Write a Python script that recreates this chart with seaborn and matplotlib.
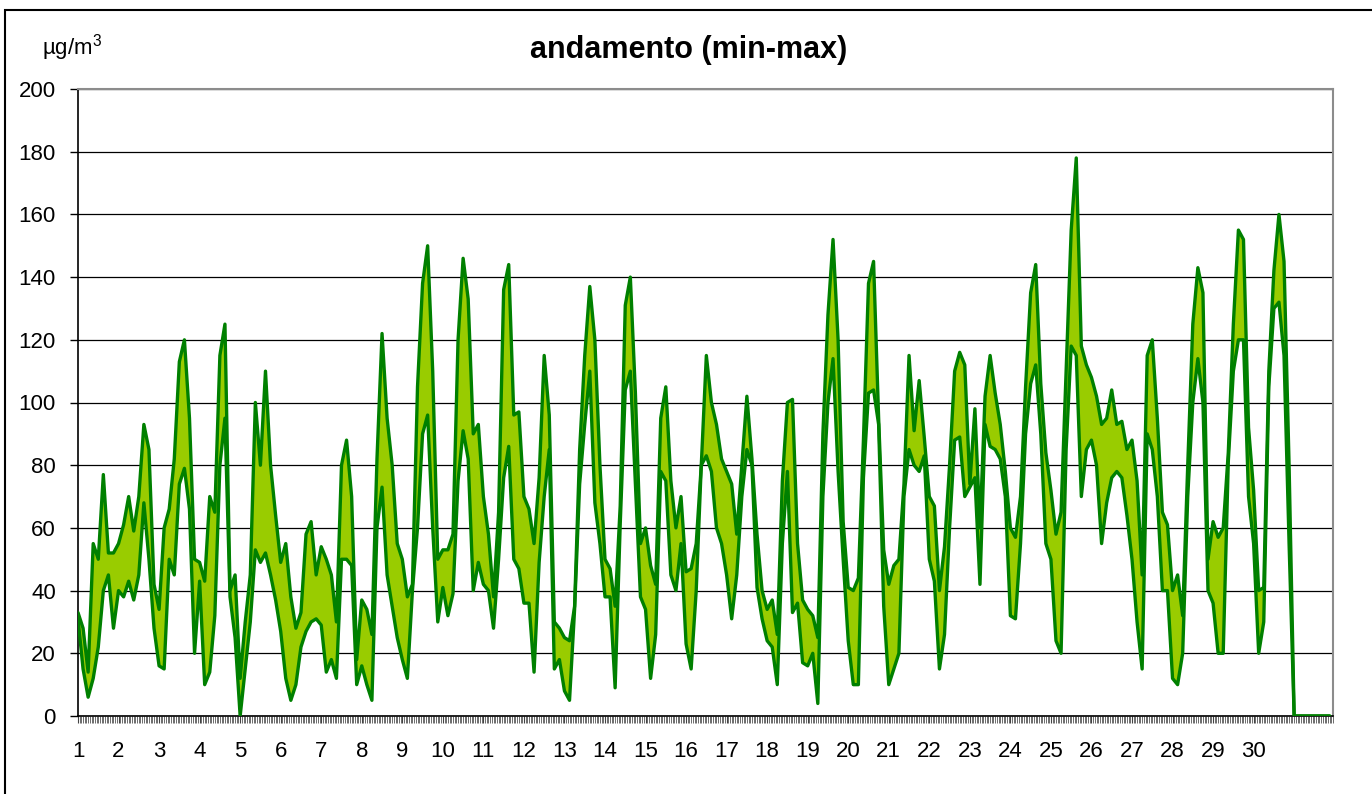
import numpy as np
import pandas as pd
import matplotlib
matplotlib.use("Agg")
import matplotlib.pyplot as plt
import matplotlib.patches as patches
from matplotlib.ticker import MultipleLocator
import seaborn as sns

# valori ogni 3 ore, una riga per giorno (max e min)
upper_max = [
    33, 28, 14, 55, 50, 77, 52, 52,
    55, 61, 70, 59, 70, 93, 85, 42,
    34, 60, 66, 82, 113, 120, 95, 50,
    49, 43, 70, 65, 115, 125, 40, 45,
    12, 30, 45, 100, 80, 110, 80, 64,
    49, 55, 38, 28, 33, 58, 62, 45,
    54, 50, 45, 30, 80, 88, 70, 18,
    37, 34, 26, 82, 122, 95, 80, 55,
    50, 38, 42, 105, 138, 150, 110, 50,
    53, 53, 58, 120, 146, 133, 90, 93,
    70, 58, 38, 65, 136, 144, 96, 97,
    70, 66, 55, 76, 115, 96, 30, 28,
    25, 24, 35, 85, 115, 137, 120, 80,
    50, 47, 35, 67, 131, 140, 103, 55,
    60, 48, 42, 95, 105, 75, 60, 70,
    46, 47, 55, 80, 115, 100, 93, 82,
    78, 74, 58, 80, 102, 82, 58, 40,
    34, 37, 26, 75, 100, 101, 55, 37,
    34, 32, 25, 90, 128, 152, 120, 62,
    41, 40, 44, 88, 138, 145, 95, 53,
    42, 48, 50, 74, 115, 91, 107, 89,
    70, 67, 40, 54, 80, 110, 116, 112,
    74, 98, 60, 102, 115, 103, 93, 78,
    60, 57, 70, 105, 135, 144, 106, 84,
    72, 58, 65, 110, 155, 178, 118, 112,
    108, 102, 93, 95, 104, 93, 94, 85,
    88, 75, 45, 115, 120, 95, 65, 61,
    40, 45, 32, 80, 125, 143, 135, 50,
    62, 57, 60, 84, 125, 155, 152, 92,
    72, 40, 41, 110, 142, 160, 145, 80,
    0, 0, 0, 0, 0, 0, 0, 0,
]
lower_min = [
    31, 15, 6, 12, 22, 40, 45, 28,
    40, 38, 43, 37, 45, 68, 50, 28,
    16, 15, 50, 45, 74, 79, 66, 20,
    43, 10, 14, 32, 80, 95, 38, 25,
    0, 15, 30, 53, 49, 52, 45, 37,
    27, 12, 5, 10, 22, 27, 30, 31,
    29, 14, 18, 12, 50, 50, 48, 10,
    16, 10, 5, 60, 73, 45, 35, 25,
    18, 12, 40, 60, 90, 96, 60, 30,
    41, 32, 39, 75, 91, 82, 40, 49,
    42, 40, 28, 50, 76, 86, 50, 47,
    36, 36, 14, 49, 70, 85, 15, 18,
    8, 5, 34, 74, 93, 110, 68, 55,
    38, 38, 9, 61, 104, 110, 74, 38,
    34, 12, 26, 78, 75, 45, 40, 55,
    23, 15, 40, 80, 83, 78, 60, 55,
    45, 31, 45, 70, 85, 80, 41, 31,
    24, 22, 10, 55, 78, 33, 36, 17,
    16, 20, 4, 70, 100, 114, 78, 50,
    24, 10, 10, 76, 103, 104, 93, 35,
    10, 15, 20, 70, 85, 80, 78, 83,
    50, 43, 15, 26, 60, 88, 89, 70,
    73, 76, 42, 93, 86, 85, 82, 70,
    32, 31, 55, 90, 106, 112, 90, 55,
    50, 24, 20, 85, 118, 115, 70, 85,
    88, 80, 55, 68, 76, 78, 76, 64,
    50, 30, 15, 90, 85, 70, 40, 40,
    12, 10, 20, 70, 100, 114, 100, 40,
    36, 20, 20, 81, 110, 120, 120, 70,
    55, 20, 30, 105, 130, 132, 115, 55,
    0, 0, 0, 0, 0, 0, 0, 0,
]
day_labels = [str(d) for d in range(1, 31)]
y_ticks = list(range(0, 201, 20))

df = pd.DataFrame({"ora": np.arange(len(upper_max)) * 3,
                   "max": upper_max, "min": lower_min})

sns.set_style("white")
plt.rcParams["font.family"] = ["Liberation Sans", "DejaVu Sans"]
plt.rcParams["text.color"] = "black"
plt.rcParams["xtick.color"] = "black"
plt.rcParams["ytick.color"] = "black"
plt.rcParams["mathtext.fontset"] = "custom"
plt.rcParams["mathtext.rm"] = "Liberation Sans"

fig = plt.figure(figsize=(13.72, 7.94), dpi=100)
ax = fig.add_axes([78 / 1372, 1 - 716 / 794, (1333 - 78) / 1372, (716 - 89) / 794])

ax.fill_between(df["ora"], df["min"], df["max"], color="#99cc00", linewidth=0, zorder=2)
sns.lineplot(data=df, x="ora", y="max", color="#008000", lw=2.4, ax=ax, zorder=3)
sns.lineplot(data=df, x="ora", y="min", color="#008000", lw=2.4, ax=ax, zorder=3)

ax.set_xlim(0, 743)
ax.set_ylim(0, 200)
ax.set_yticks(y_ticks)
ax.set_xticks([i * 24 for i in range(len(day_labels))])
ax.set_xticklabels(day_labels)
ax.xaxis.set_minor_locator(MultipleLocator(1))
ax.grid(axis="y", color="black", lw=0.9, zorder=1)
ax.set_axisbelow(True)
ax.set_xlabel("")
ax.set_ylabel("")

ax.tick_params(axis="y", which="major", direction="out", length=6, width=1,
               color="black", labelcolor="black", labelsize=16, pad=10, left=True)
ax.tick_params(axis="x", which="major", direction="out", length=5, width=0.8,
               color="#444444", labelcolor="black", labelsize=16, pad=13, bottom=True)
ax.tick_params(axis="x", which="minor", direction="out", length=5, width=0.6,
               color="#555555", bottom=True)

for side in ["left", "bottom"]:
    ax.spines[side].set_color("black")
    ax.spines[side].set_linewidth(1.2)
for side in ["top", "right"]:
    ax.spines[side].set_color("#8c8c8c")
    ax.spines[side].set_linewidth(1.5)

fig.text(0.502, 1 - 50 / 794, "andamento (min-max)", ha="center", va="center",
         fontsize=22, fontweight="bold", color="black")
fig.text(42 / 1372, 1 - 48 / 794, "µg/m$^3$", ha="left", va="center",
         fontsize=16, color="black")

fig.patches.append(patches.Rectangle((5 / 1372, -0.05), 1.2, 1.05 - 10 / 794,
                                     transform=fig.transFigure, fill=False,
                                     edgecolor="black", lw=1.5, clip_on=False))

fig.savefig("out.png", dpi=100)
